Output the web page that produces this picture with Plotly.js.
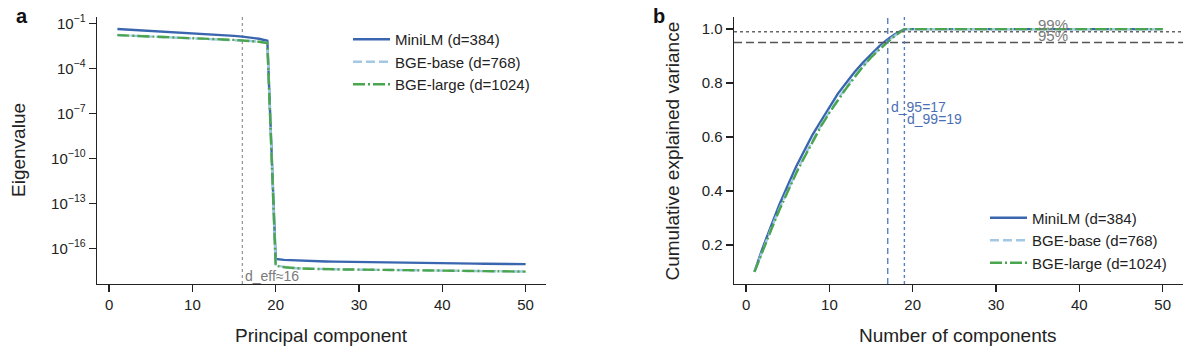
<!DOCTYPE html>
<html>
<head>
<meta charset="utf-8">
<script src="https://cdn.plot.ly/plotly-3.0.1.min.js"></script>
<style>html,body{margin:0;padding:0;background:#fff;}#chart{width:1199px;height:360px;}</style>
</head>
<body>
<div id="chart"></div>
<script>
// ---------- data ----------
const components = [1,2,3,4,5,6,7,8,9,10,11,12,13,14,15,16,17,18,19,20,21,22,23,24,25,26,27,28,29,30,31,32,33,34,35,36,37,38,39,40,41,42,43,44,45,46,47,48,49,50];
const seriesNames = ['MiniLM (d=384)', 'BGE-base (d=768)', 'BGE-large (d=1024)'];

// panel a: eigenvalues
const eigMiniLM = [4.17e-2,3.89e-2,3.63e-2,3.39e-2,3.16e-2,2.95e-2,2.75e-2,2.51e-2,2.34e-2,2.19e-2,2.04e-2,1.91e-2,1.74e-2,1.58e-2,1.45e-2,1.29e-2,1.12e-2,9.3e-3,6.9e-3,
  1.95e-17,1.70e-17,1.58e-17,1.48e-17,1.41e-17,1.35e-17,1.32e-17,1.29e-17,1.26e-17,1.23e-17,1.20e-17,1.18e-17,1.16e-17,1.14e-17,1.12e-17,1.10e-17,1.08e-17,1.06e-17,1.05e-17,1.03e-17,1.01e-17,9.9e-18,9.8e-18,9.6e-18,9.5e-18,9.4e-18,9.2e-18,9.1e-18,9.0e-18,8.9e-18,8.8e-18];
const eigBGEbase = [1.65e-2,1.56e-2,1.46e-2,1.39e-2,1.32e-2,1.24e-2,1.18e-2,1.12e-2,1.07e-2,1.02e-2,9.8e-3,9.2e-3,8.7e-3,8.3e-3,7.8e-3,7.2e-3,6.6e-3,5.9e-3,4.9e-3,
  7.0e-18,5.6e-18,4.9e-18,4.5e-18,4.3e-18,4.1e-18,4.0e-18,3.95e-18,3.9e-18,3.85e-18,3.8e-18,3.75e-18,3.7e-18,3.65e-18,3.6e-18,3.55e-18,3.5e-18,3.45e-18,3.4e-18,3.35e-18,3.3e-18,3.25e-18,3.2e-18,3.15e-18,3.1e-18,3.05e-18,3.0e-18,2.95e-18,2.9e-18,2.85e-18,2.8e-18];
const eigBGElarge = [1.62e-2,1.55e-2,1.45e-2,1.38e-2,1.32e-2,1.23e-2,1.17e-2,1.12e-2,1.07e-2,1.02e-2,9.8e-3,9.1e-3,8.7e-3,8.3e-3,7.8e-3,7.2e-3,6.6e-3,5.9e-3,4.8e-3,
  6.9e-18,5.5e-18,4.8e-18,4.5e-18,4.3e-18,4.1e-18,4.0e-18,3.95e-18,3.9e-18,3.85e-18,3.8e-18,3.75e-18,3.7e-18,3.65e-18,3.6e-18,3.55e-18,3.5e-18,3.45e-18,3.4e-18,3.35e-18,3.3e-18,3.25e-18,3.2e-18,3.15e-18,3.1e-18,3.05e-18,3.0e-18,2.95e-18,2.9e-18,2.85e-18,2.8e-18];

// panel b: cumulative explained variance
const cumMiniLM = [0.10,0.19,0.27,0.35,0.42,0.49,0.55,0.61,0.66,0.71,0.76,0.80,0.84,0.875,0.908,0.937,0.963,0.984,1.0,
  1,1,1,1,1,1,1,1,1,1,1,1,1,1,1,1,1,1,1,1,1,1,1,1,1,1,1,1,1,1,1];
const cumBGEbase = [0.10,0.183,0.26,0.335,0.405,0.47,0.53,0.59,0.645,0.695,0.74,0.785,0.825,0.862,0.897,0.927,0.955,0.979,1.0,
  1,1,1,1,1,1,1,1,1,1,1,1,1,1,1,1,1,1,1,1,1,1,1,1,1,1,1,1,1,1,1];
const cumBGElarge = [0.10,0.18,0.255,0.33,0.40,0.465,0.525,0.585,0.64,0.69,0.735,0.78,0.82,0.86,0.895,0.925,0.953,0.978,1.0,
  1,1,1,1,1,1,1,1,1,1,1,1,1,1,1,1,1,1,1,1,1,1,1,1,1,1,1,1,1,1,1];

const dEff = 16, d95 = 17, d99 = 19;
const thresholds = [0.99, 0.95];
const thresholdLabels = ['99%', '95%'];
const xTicks = [0,10,20,30,40,50];
const yTicksA = [1e-1,1e-4,1e-7,1e-10,1e-13,1e-16];
const yTickTextA = ['10<sup>−1</sup>','10<sup>−4</sup>','10<sup>−7</sup>','10<sup>−10</sup>','10<sup>−13</sup>','10<sup>−16</sup>'];
const yTicksB = [0.2,0.4,0.6,0.8,1.0];
const yTickTextB = ['0.2','0.4','0.6','0.8','1.0'];

// ---------- styles ----------
const FONT = 'Liberation Sans, Arial, Helvetica, sans-serif';
const C_MINI = '#3a66b0', C_BASE = '#a3c8e4', C_LARGE = '#4aa54f';
const styles = [
  {color: C_MINI, width: 2.4, dash: 'solid'},
  {color: C_BASE, width: 2.4, dash: '9px,4px'},
  {color: C_LARGE, width: 2.4, dash: '12px,3px,2px,3px'}
];

const traces = [];
[eigMiniLM, eigBGEbase, eigBGElarge].forEach((ys, i) => {
  traces.push({x: components, y: ys, type: 'scatter', mode: 'lines', name: seriesNames[i],
    line: styles[i], xaxis: 'x', yaxis: 'y', legend: 'legend'});
});
[cumMiniLM, cumBGEbase, cumBGElarge].forEach((ys, i) => {
  traces.push({x: components, y: ys, type: 'scatter', mode: 'lines', name: seriesNames[i],
    line: styles[i], xaxis: 'x2', yaxis: 'y2', legend: 'legend2'});
});

const axisCommon = {showline: true, linecolor: '#222', linewidth: 1.4, ticks: 'outside', ticklen: 7,
  tickwidth: 1.4, tickcolor: '#222', showgrid: false, zeroline: false, automargin: false,
  tickfont: {family: FONT, size: 15, color: '#222'}};
const yDom = [0.2111, 0.9528];

const layout = {
  width: 1199, height: 360, margin: {l: 0, r: 0, t: 0, b: 0},
  paper_bgcolor: '#fff', plot_bgcolor: '#fff',
  font: {family: FONT, size: 15, color: '#222'},
  showlegend: true,
  xaxis: Object.assign({}, axisCommon, {domain: [0.0809, 0.4554], range: [-1.45, 52.45], tickvals: xTicks, anchor: 'y'}),
  yaxis: Object.assign({}, axisCommon, {domain: yDom, type: 'log', range: [-18.38, -0.58], tickvals: yTicksA, ticktext: yTickTextA, anchor: 'x'}),
  xaxis2: Object.assign({}, axisCommon, {domain: [0.6122, 0.9867], range: [-1.45, 52.45], tickvals: xTicks, anchor: 'y2'}),
  yaxis2: Object.assign({}, axisCommon, {domain: yDom, range: [0.055, 1.045], tickvals: yTicksB, ticktext: yTickTextB, anchor: 'x2'}),
  legend: {x: 348/1199, y: 1 - 23/360, xanchor: 'left', yanchor: 'top', bgcolor: 'rgba(255,255,255,0)',
    font: {family: FONT, size: 15, color: '#222'}, itemwidth: 37},
  legend2: {x: 985/1199, y: 1 - 201.5/360, xanchor: 'left', yanchor: 'top', bgcolor: 'rgba(255,255,255,0)',
    font: {family: FONT, size: 15, color: '#222'}, itemwidth: 37},
  shapes: [
    {type: 'line', xref: 'x', yref: 'y domain', x0: dEff, x1: dEff, y0: 0, y1: 1, line: {color: '#999', width: 1.3, dash: 'dot'}, layer: 'below'},
    {type: 'line', xref: 'x2 domain', yref: 'y2', x0: 0, x1: 1, y0: thresholds[0], y1: thresholds[0], line: {color: '#666', width: 1.4, dash: 'dot'}},
    {type: 'line', xref: 'x2 domain', yref: 'y2', x0: 0, x1: 1, y0: thresholds[1], y1: thresholds[1], line: {color: '#555', width: 1.5, dash: '8px,4px'}},
    {type: 'line', xref: 'x2', yref: 'y2 domain', x0: d95, x1: d95, y0: 0, y1: 1, line: {color: '#5a7fc0', width: 1.4, dash: '6px,4px'}},
    {type: 'line', xref: 'x2', yref: 'y2 domain', x0: d99, x1: d99, y0: 0, y1: 1, line: {color: '#5a7fc0', width: 1.4, dash: 'dot'}}
  ],
  annotations: [
    {text: '<b>a</b>', xref: 'paper', yref: 'paper', x: 14/1199, y: 1 - 3/360, xanchor: 'left', yanchor: 'top', showarrow: false, font: {family: FONT, size: 20, color: '#111'}},
    {text: '<b>b</b>', xref: 'paper', yref: 'paper', x: 651/1199, y: 1 - 3/360, xanchor: 'left', yanchor: 'top', showarrow: false, font: {family: FONT, size: 20, color: '#111'}},
    {text: 'Eigenvalue', xref: 'paper', yref: 'paper', x: 18.5/1199, y: 1 - 150.5/360, xanchor: 'center', yanchor: 'middle', textangle: -90, showarrow: false, font: {family: FONT, size: 19, color: '#222'}},
    {text: 'Principal component', xref: 'paper', yref: 'paper', x: 321.5/1199, y: 1 - 335/360, xanchor: 'center', yanchor: 'middle', showarrow: false, font: {family: FONT, size: 19, color: '#222'}},
    {text: 'Cumulative explained variance', xref: 'paper', yref: 'paper', x: 672/1199, y: 1 - 150.5/360, xanchor: 'center', yanchor: 'middle', textangle: -90, showarrow: false, font: {family: FONT, size: 19, color: '#222'}},
    {text: 'Number of components', xref: 'paper', yref: 'paper', x: 958.5/1199, y: 1 - 335/360, xanchor: 'center', yanchor: 'middle', showarrow: false, font: {family: FONT, size: 19, color: '#222'}},
    {text: 'd_eff≈16', xref: 'x', yref: 'y domain', x: dEff, y: 0, xanchor: 'left', yanchor: 'bottom', xshift: 1, yshift: -2, showarrow: false, font: {family: FONT, size: 14, color: '#7a7a7a'}},
    {text: thresholdLabels[0], xref: 'x2', yref: 'y2', x: 35, y: thresholds[0], xanchor: 'left', yanchor: 'bottom', yshift: -3, xshift: -2, showarrow: false, font: {family: FONT, size: 15, color: '#7a7a7a'}},
    {text: thresholdLabels[1], xref: 'x2', yref: 'y2', x: 35, y: thresholds[1], xanchor: 'left', yanchor: 'bottom', yshift: -3, xshift: -2, showarrow: false, font: {family: FONT, size: 15, color: '#7a7a7a'}},
    {text: 'd_95=17', xref: 'x2', yref: 'y2', x: d95, y: 0.71, xanchor: 'left', yanchor: 'middle', xshift: 1, showarrow: false, font: {family: FONT, size: 14, color: '#4a6fb5'}},
    {text: 'd_99=19', xref: 'x2', yref: 'y2', x: d99, y: 0.665, xanchor: 'left', yanchor: 'middle', xshift: 1, showarrow: false, font: {family: FONT, size: 14, color: '#4a6fb5'}}
  ]
};

Plotly.newPlot('chart', traces, layout, {displayModeBar: false, staticPlot: true});
</script>
</body>
</html>
